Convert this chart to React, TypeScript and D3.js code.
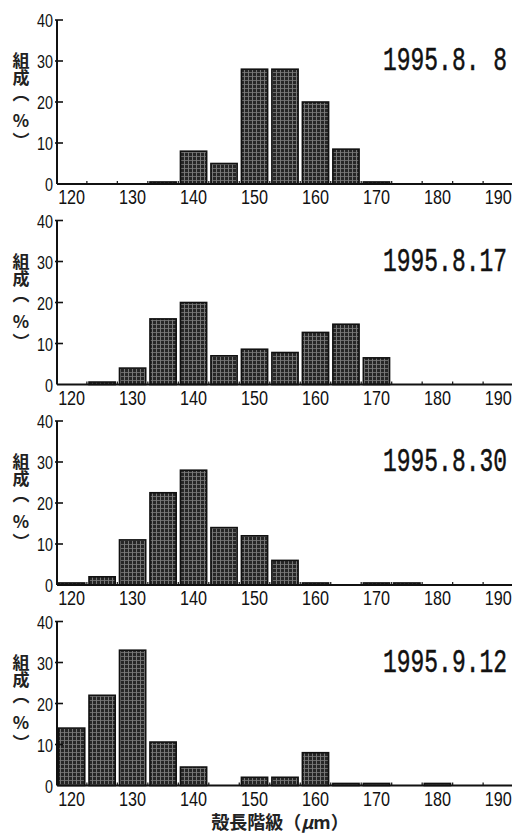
import React from 'react'
import { scaleBand, scaleLinear } from 'd3'

const classes = ['120', '125', '130', '135', '140', '145', '150', '155', '160', '165', '170', '175', '180', '185', '190']
const tickLabels = ['120', '130', '140', '150', '160', '170', '180', '190']
const yTicks = [0, 10, 20, 30, 40]

const dates = ['1995.8. 8', '1995.8.17', '1995.8.30', '1995.9.12']

const aug08 = [0, 0, 0, 0.5, 8, 5, 28, 28, 20, 8.5, 0.5, 0, 0, 0, 0]
const aug17 = [0, 0.6, 4, 16, 20, 7, 8.6, 7.8, 12.7, 14.7, 6.5, 0, 0, 0, 0]
const aug30 = [0.5, 2, 11, 22.5, 28, 14, 12, 6, 0.5, 0, 0.5, 0.5, 0, 0, 0]
const sep12 = [14, 22, 33, 10.6, 4.5, 0, 2, 2, 8, 0.5, 0.5, 0, 0.5, 0, 0]

const series = [aug08, aug17, aug30, sep12]

const W = 512
const H = 837
const sans = '"Liberation Sans", Arial, sans-serif'
const cjk = '"Noto Sans CJK JP", "Noto Sans CJK SC", sans-serif'

const x = scaleBand<string>().domain(classes).range([57, 513]).paddingInner(0.14).paddingOuter(0.05)

function Panel({ values, date, top }: { values: number[]; date: string; top: number }) {
  const bottom = top + 164
  const y = scaleLinear().domain([0, 40]).range([bottom, top])
  const x0 = x.range()[0]
  const step = x.step()
  // little tick marks at the class boundaries
  const bounds = classes.slice(1).map((c) => (x(c) as number) - (step * x.paddingInner()) / 2)
  return (
    <g>
      {values.map((v, i) => {
        const c = classes[i]
        if (v <= 0) return null
        return (
          <rect
            key={c}
            x={x(c)}
            y={y(v)}
            width={x.bandwidth()}
            height={y(0) - y(v)}
            fill="url(#grid)"
            stroke="#111"
            strokeWidth={1.6}
          />
        )
      })}
      {bounds.map((b, i) => (
        <line key={i} x1={b} x2={b} y1={y(0)} y2={y(0) - 3} stroke="#222" strokeWidth={1.3} />
      ))}
      <line x1={x0} x2={W} y1={y(0)} y2={y(0)} stroke="#111" strokeWidth={2} />
      <line x1={x0} x2={x0} y1={y(0)} y2={y(40)} stroke="#111" strokeWidth={2} />
      {yTicks.map((t) => (
        <g key={t}>
          {t > 0 && <line x1={x0 - 2} x2={x0 + 6} y1={y(t)} y2={y(t)} stroke="#111" strokeWidth={1.6} />}
          <text
            x={x0 - 4}
            y={y(t) + 7}
            textAnchor="end"
            fontFamily={sans}
            fontSize={19}
            textLength={String(t).length * 8}
            lengthAdjust="spacingAndGlyphs"
            fill="#111"
          >
            {t}
          </text>
        </g>
      ))}
      {tickLabels.map((t) => (
        <text
          key={t}
          x={(x(t) as number) + x.bandwidth() / 2}
          y={bottom + 20}
          textAnchor="middle"
          fontFamily={sans}
          fontSize={20}
          textLength={27}
          lengthAdjust="spacingAndGlyphs"
          fill="#111"
        >
          {t}
        </text>
      ))}
      <text
        x={507}
        y={top + 50}
        textAnchor="end"
        fontFamily='"Liberation Mono", "DejaVu Sans Mono", monospace'
        fontSize={34}
        textLength={124}
        lengthAdjust="spacingAndGlyphs"
        stroke="#111"
        strokeWidth={0.5}
        fill="#111"
      >
        {date}
      </text>
      <g fontFamily={cjk} fontSize={17} fontWeight={700} fill="#222" textAnchor="middle">
        <text x={21} y={top + 47}>組</text>
        <text x={21} y={top + 64}>成</text>
        <text x={21} y={top + 80}>︵</text>
        <text x={21} y={top + 107}>%</text>
        <text x={21} y={top + 127}>︶</text>
      </g>
    </g>
  )
}

export default function App() {
  return (
    <svg width={W} height={H} style={{ position: 'absolute', left: 0, top: 0, background: '#fff' }}>
      <defs>
        <pattern id="grid" width={4} height={4} patternUnits="userSpaceOnUse">
          <rect width={4} height={4} fill="#262626" />
          <line x1={0.5} x2={0.5} y1={0} y2={4} stroke="#8c8c8c" strokeWidth={0.8} />
          <line x1={0} x2={4} y1={0.5} y2={0.5} stroke="#7a7a7a" strokeWidth={0.8} />
        </pattern>
      </defs>
      {series.map((s, i) => (
        <Panel key={dates[i]} values={s} date={dates[i]} top={20 + i * 200.5} />
      ))}
      <text x={280} y={829} textAnchor="middle" fontFamily={cjk} fontSize={18} fontWeight={700} fill="#222">
        殻長階級（<tspan fontStyle="italic">μ</tspan>m）
      </text>
    </svg>
  )
}
